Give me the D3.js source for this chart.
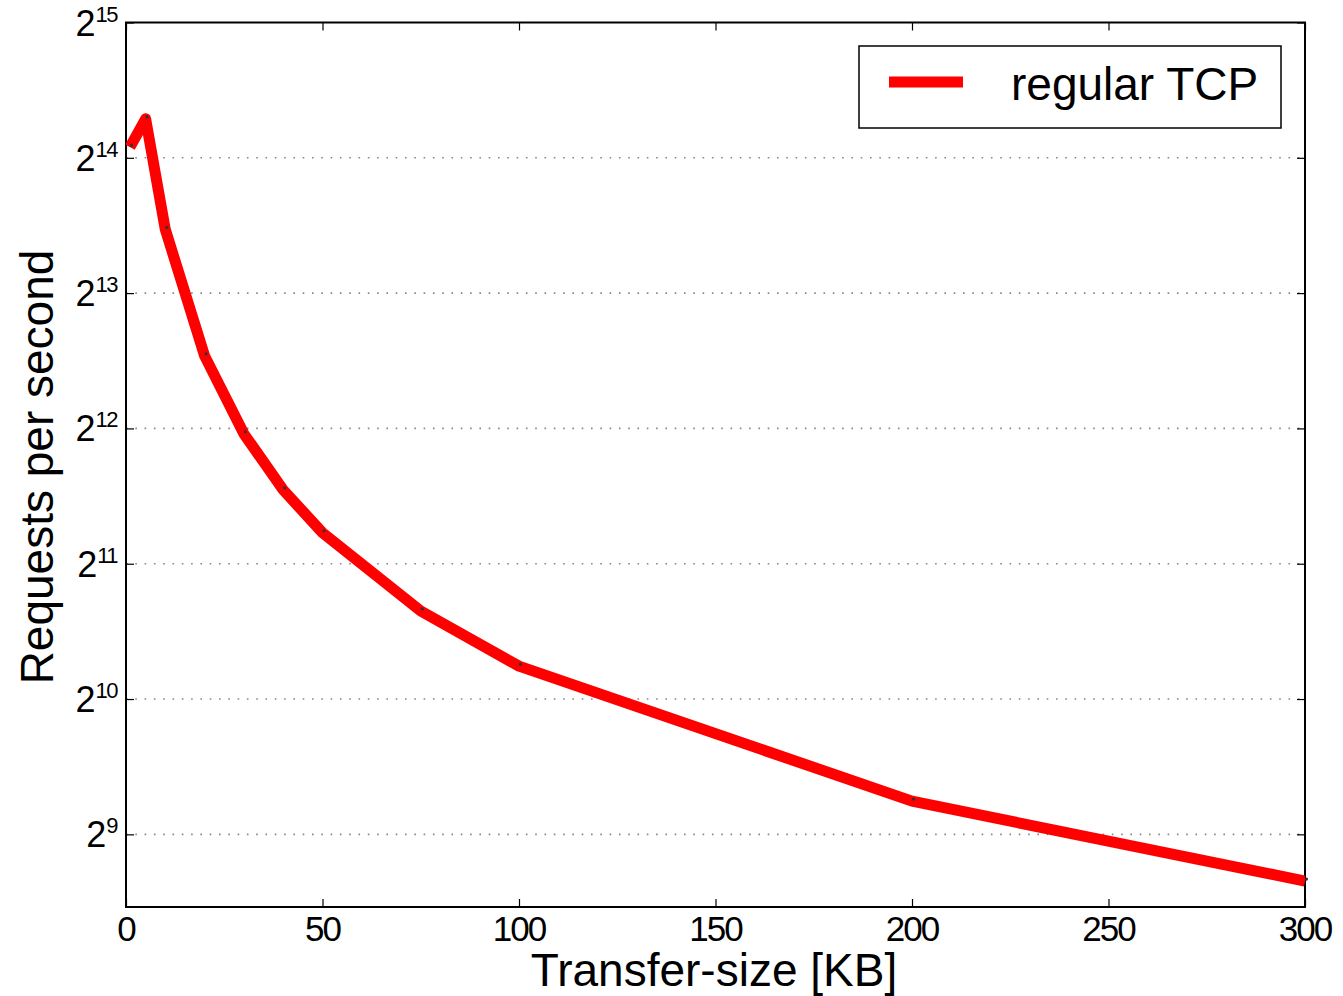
<html>
<head>
<title>Requests per second</title>
<script src="https://cdnjs.cloudflare.com/ajax/libs/d3/7.8.5/d3.min.js"></script>
<style>
  body { margin: 0; background: #fff; }
  text { font-family: "Liberation Sans", Arial, sans-serif; fill: #000; }
</style>
</head>
<body>
<svg id="chart" width="1343" height="996"></svg>
<script>
// transfer size in KB
var sizes = [1, 5, 10, 20, 30, 40, 50, 75, 100, 200, 300];
// requests per second, regular TCP
var requests = [17300, 20000, 11350, 5940, 3985, 2990, 2400, 1608, 1212, 607, 403];
var xTicks = [0, 50, 100, 150, 200, 250, 300];
var yExps = [9, 10, 11, 12, 13, 14, 15];
var seriesName = 'regular TCP';

var pLeft = 126, pRight = 1305, pTop = 22.5, pBottom = 907;
var svg = d3.select('#chart');

var x = d3.scaleLinear().domain([0, 300]).range([pLeft, pRight]);
var y = d3.scaleLog().base(2).domain([Math.pow(2, 8.463), Math.pow(2, 15)]).range([pBottom, pTop]);

// dotted grid lines
svg.append('g').selectAll('line')
    .data(yExps.filter(function (e) { return e < 15; }))
    .enter().append('line')
    .attr('x1', pLeft).attr('x2', pRight)
    .attr('y1', function (e) { return y(Math.pow(2, e)); })
    .attr('y2', function (e) { return y(Math.pow(2, e)); })
    .attr('stroke', '#888').attr('stroke-width', 1.6)
    .attr('stroke-dasharray', '1.6,7.7');

// inward ticks: bottom/top and left/right
var xb = d3.axisBottom(x).tickValues(xTicks).tickSizeInner(-8).tickSizeOuter(0).tickFormat('');
var xt = d3.axisTop(x).tickValues(xTicks).tickSizeInner(-8).tickSizeOuter(0).tickFormat('');
var yl = d3.axisLeft(y).tickValues(yExps.map(function (e) { return Math.pow(2, e); })).tickSizeInner(-8).tickSizeOuter(0).tickFormat('');
var yr = d3.axisRight(y).tickValues(yExps.map(function (e) { return Math.pow(2, e); })).tickSizeInner(-8).tickSizeOuter(0).tickFormat('');
svg.append('g').attr('transform', 'translate(0,' + pBottom + ')').call(xb);
svg.append('g').attr('transform', 'translate(0,' + pTop + ')').call(xt);
svg.append('g').attr('transform', 'translate(' + pLeft + ',0)').call(yl);
svg.append('g').attr('transform', 'translate(' + pRight + ',0)').call(yr);
svg.selectAll('.domain').remove();
svg.selectAll('.tick line').attr('stroke', '#000').attr('stroke-width', 1.2);

// x tick labels
svg.append('g').selectAll('text')
    .data(xTicks).enter().append('text')
    .attr('x', function (d) { return x(d); })
    .attr('y', 941)
    .attr('text-anchor', 'middle')
    .attr('font-size', 35)
    .attr('letter-spacing', -2)
    .text(function (d) { return d; });

// y tick labels 2^n
var yl2 = svg.append('g').selectAll('text')
    .data(yExps).enter().append('text')
    .attr('x', 117)
    .attr('y', function (e) { return y(Math.pow(2, e)) + 13; })
    .attr('text-anchor', 'end');
yl2.append('tspan').attr('font-size', 36).text('2');
yl2.append('tspan').attr('font-size', 22).attr('dy', -14).attr('letter-spacing', -1.5)
    .text(function (e) { return e; });

// frame
svg.append('rect')
    .attr('x', pLeft).attr('y', pTop)
    .attr('width', pRight - pLeft).attr('height', pBottom - pTop)
    .attr('fill', 'none').attr('stroke', '#000').attr('stroke-width', 2);

// data line
var pts = sizes.map(function (s, i) { return [s, requests[i]]; });
var line = d3.line().x(function (d) { return x(d[0]); }).y(function (d) { return y(d[1]); });
svg.append('clipPath').attr('id', 'plotclip')
    .append('rect').attr('x', pLeft).attr('y', pTop).attr('width', pRight - pLeft).attr('height', pBottom - pTop);
svg.append('path')
    .datum(pts)
    .attr('d', line)
    .attr('clip-path', 'url(#plotclip)')
    .attr('fill', 'none')
    .attr('stroke', '#ff0000')
    .attr('stroke-width', 11)
    .attr('stroke-linejoin', 'round');
svg.append('g').selectAll('circle')
    .data(pts).enter().append('circle')
    .attr('cx', function (d) { return x(d[0]) + 1.5; })
    .attr('cy', function (d) { return y(d[1]) - 2; })
    .attr('r', 1.6)
    .attr('fill', '#333');

// legend
svg.append('rect')
    .attr('x', 859).attr('y', 46).attr('width', 422).attr('height', 82)
    .attr('fill', '#fff').attr('stroke', '#000').attr('stroke-width', 1.5);
svg.append('line')
    .attr('x1', 889).attr('x2', 963).attr('y1', 82).attr('y2', 82)
    .attr('stroke', '#ff0000').attr('stroke-width', 11);
svg.append('text')
    .attr('x', 1011).attr('y', 100)
    .attr('font-size', 46)
    .text(seriesName);

// axis titles
svg.append('text')
    .attr('x', 714).attr('y', 986)
    .attr('text-anchor', 'middle')
    .attr('font-size', 46)
    .text('Transfer-size [KB]');
svg.append('text')
    .attr('transform', 'translate(53,467) rotate(-90)')
    .attr('text-anchor', 'middle')
    .attr('font-size', 46)
    .text('Requests per second');
</script>
</body>
</html>
